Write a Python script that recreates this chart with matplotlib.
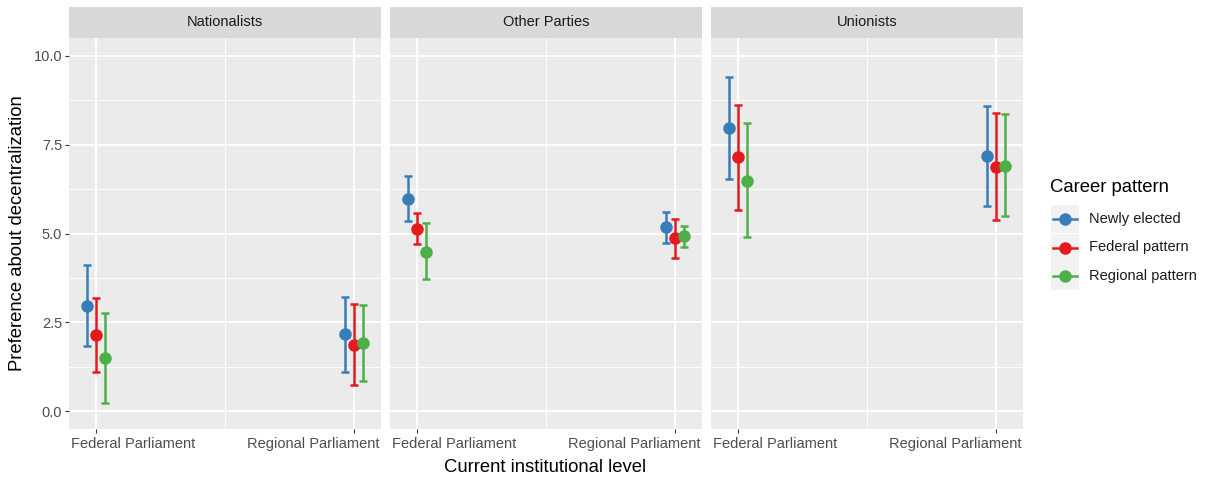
import matplotlib
matplotlib.use("Agg")
import matplotlib.pyplot as plt
from matplotlib.patches import Rectangle
from matplotlib.lines import Line2D

plt.rcParams["font.family"] = ["Liberation Sans", "DejaVu Sans"]

parties = ["Nationalists", "Other Parties", "Unionists"]
levels = ["Federal Parliament", "Regional Parliament"]
patterns = ["Newly elected", "Federal pattern", "Regional pattern"]
colors = ["#377EB8", "#E41A1C", "#4DAF4A"]

# [party][level] -> value
newly_mean = [[2.96, 2.16], [5.96, 5.17], [7.97, 7.17]]
newly_lo = [[1.84, 1.11], [5.34, 4.74], [6.54, 5.76]]
newly_hi = [[4.10, 3.22], [6.61, 5.61], [9.39, 8.59]]

federal_mean = [[2.14, 1.86], [5.13, 4.86], [7.14, 6.87]]
federal_lo = [[1.09, 0.74], [4.71, 4.31], [5.67, 5.37]]
federal_hi = [[3.19, 3.02], [5.58, 5.42], [8.61, 8.38]]

regional_mean = [[1.49, 1.91], [4.49, 4.92], [6.47, 6.91]]
regional_lo = [[0.22, 0.84], [3.71, 4.61], [4.89, 5.49]]
regional_hi = [[2.77, 2.99], [5.29, 5.22], [8.10, 8.35]]

means = [newly_mean, federal_mean, regional_mean]
los = [newly_lo, federal_lo, regional_lo]
his = [newly_hi, federal_hi, regional_hi]

W, H = 1211, 484
fig = plt.figure(figsize=(W / 100, H / 100), dpi=100)

panel_x = [69, 390, 711]
panel_w = 312
top, bottom = 38, 429
strip_top = 7
dodge = [-0.035, 0.0, 0.035]


def fx(px):
    return px / W


def fy(py):
    return 1 - py / H


for p, party in enumerate(parties):
    x0 = panel_x[p]
    ax = fig.add_axes([fx(x0), fy(bottom), fx(panel_w), (bottom - top) / H])
    ax.set_facecolor("#EBEBEB")
    for s in ax.spines.values():
        s.set_visible(False)
    ax.set_xlim(0.895, 2.105)
    ax.set_ylim(-0.5, 10.5)

    # grid
    for yv in [1.25, 3.75, 6.25, 8.75]:
        ax.axhline(yv, color="white", lw=0.7, zorder=0)
    for yv in [0, 2.5, 5, 7.5, 10]:
        ax.axhline(yv, color="white", lw=1.4, zorder=0)
    ax.axvline(1.5, color="white", lw=0.7, zorder=0)
    for xv in [1, 2]:
        ax.axvline(xv, color="white", lw=1.4, zorder=0)

    for k in range(3):
        for li in range(2):
            m = means[k][p][li]
            lo = los[k][p][li]
            hi = his[k][p][li]
            ax.errorbar(li + 1 + dodge[k], m, yerr=[[m - lo], [hi - m]],
                        fmt="o", color=colors[k], ms=8, elinewidth=1.8,
                        capsize=3, capthick=1.8, zorder=3)

    ax.set_xticks([1, 2])
    ax.set_xticklabels([])
    ax.tick_params(axis="x", length=3, width=0.8, color="#333333")
    ax.set_yticks([0, 2.5, 5, 7.5, 10])
    if p == 0:
        ax.set_yticklabels(["0.0", "2.5", "5.0", "7.5", "10.0"],
                           fontsize=10.5, color="#4D4D4D")
        ax.tick_params(axis="y", length=3, width=0.8, color="#333333", pad=2)
    else:
        ax.tick_params(axis="y", length=0, labelleft=False)

    # category labels kept inside the panel width
    ax.text(0.005, -0.038, levels[0], transform=ax.transAxes, ha="left",
            va="center", fontsize=10.5, color="#4D4D4D")
    ax.text(0.995, -0.038, levels[1], transform=ax.transAxes, ha="right",
            va="center", fontsize=10.5, color="#4D4D4D")

    # facet strip
    sax = fig.add_axes([fx(x0), fy(top), fx(panel_w), (top - strip_top) / H])
    sax.set_facecolor("#D9D9D9")
    sax.set_xticks([])
    sax.set_yticks([])
    for s in sax.spines.values():
        s.set_visible(False)
    sax.text(0.5, 0.5, party, ha="center", va="center", fontsize=10.5,
             color="#1A1A1A", transform=sax.transAxes)

fig.text(fx(545), fy(468), "Current institutional level", ha="center",
         va="center", fontsize=13.3)
fig.text(fx(18), fy(233), "Preference about decentralization", ha="center",
         va="center", rotation=90, fontsize=13.3)

# legend
fig.text(fx(1050), fy(187), "Career pattern", ha="left", va="center",
         fontsize=13.3)
lax = fig.add_axes([0, 0, 1, 1], facecolor="none")
lax.set_xlim(0, W)
lax.set_ylim(H, 0)
lax.axis("off")
for k, name in enumerate(patterns):
    y0 = 205 + k * 28.5
    lax.add_patch(Rectangle((1051, y0), 28, 28, facecolor="#F2F2F2",
                            edgecolor="none"))
    lax.add_line(Line2D([1053, 1077], [y0 + 14, y0 + 14], color=colors[k],
                        lw=1.8))
    lax.plot([1065], [y0 + 14], "o", color=colors[k], ms=8)
    lax.text(1089, y0 + 14, name, ha="left", va="center", fontsize=10.5,
             color="#1A1A1A")

fig.savefig("out.png", dpi=100)
